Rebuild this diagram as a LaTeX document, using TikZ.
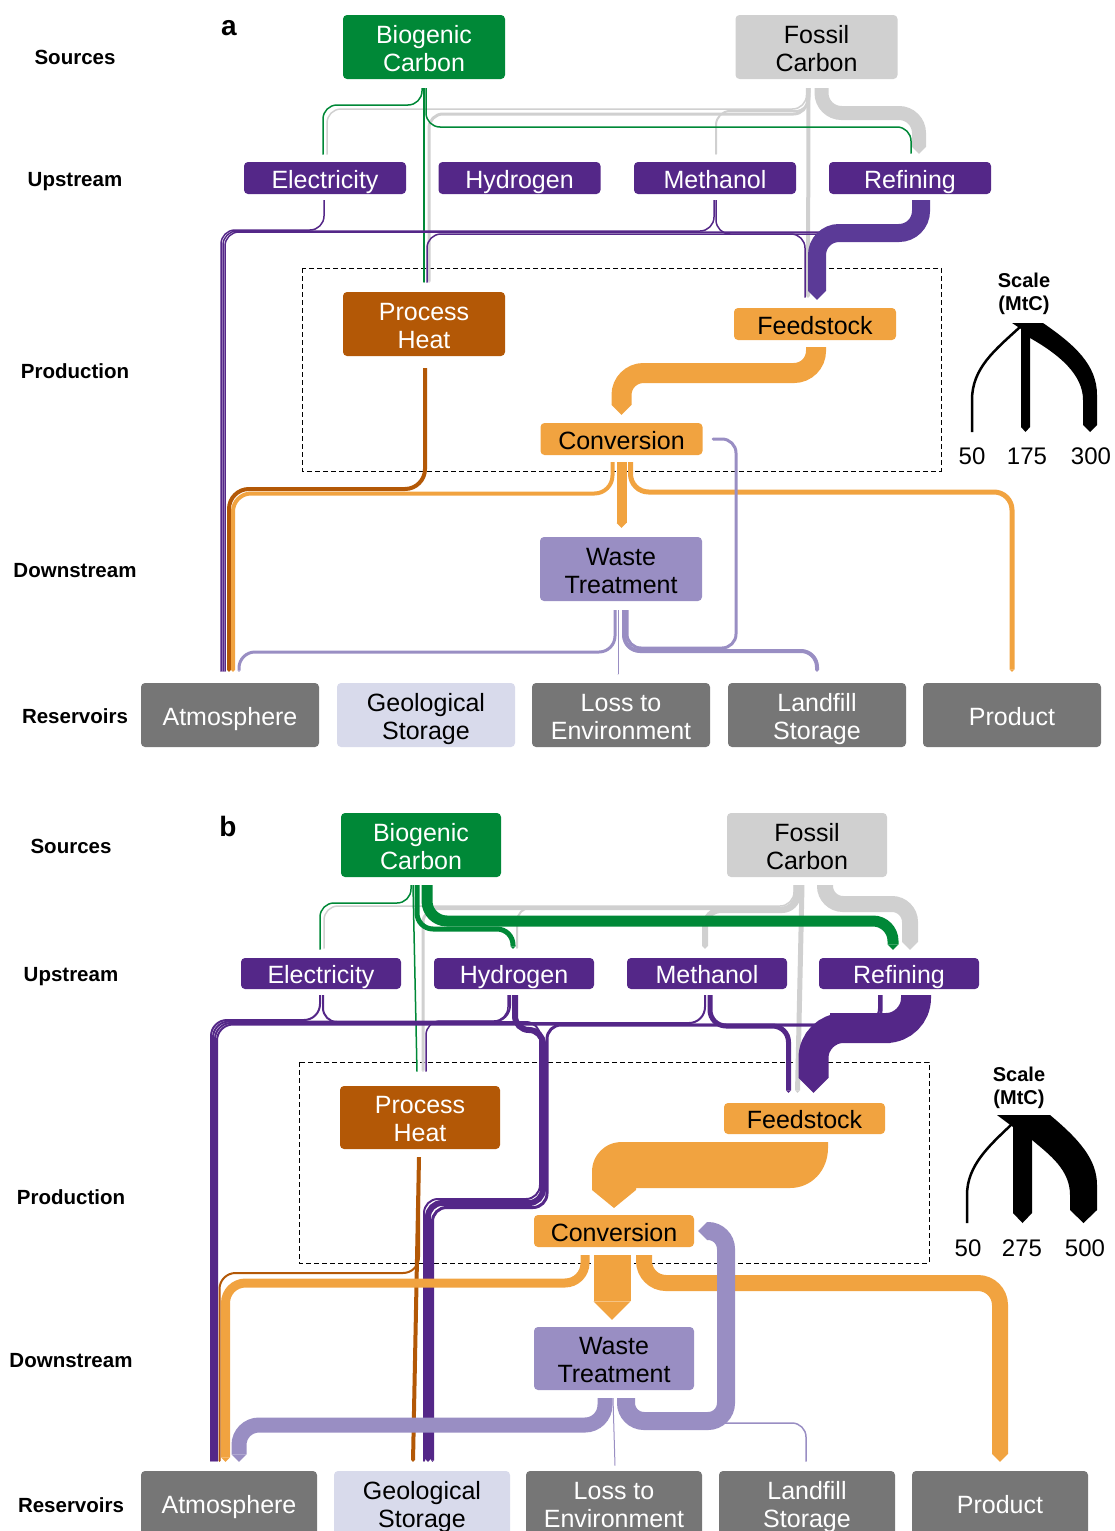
\documentclass[tikz,border=0pt]{standalone}
\usepackage{fontspec}
\setmainfont{Liberation Sans}
\usetikzlibrary{arrows.meta}
\definecolor{cgreen}{HTML}{008837}
\definecolor{cgray}{HTML}{D0D0D0}
\definecolor{cpurple}{HTML}{542788}
\definecolor{cpurpleA}{HTML}{5B3A97}
\definecolor{cbrown}{HTML}{B35806}
\definecolor{corange}{HTML}{F1A340}
\definecolor{clpurple}{HTML}{998EC3}
\definecolor{cres}{HTML}{767676}
\definecolor{cgeo}{HTML}{D8DAEB}
\newcommand\nodefont{\fontsize{25}{28}\selectfont}
\newcommand\rowfont{\fontsize{20.5}{24}\selectfont\bfseries}
\newcommand\numfont{\fontsize{24}{28}\selectfont}
\newcommand\ta{\rule{0pt}{26pt}}
\newcommand\tb{\rule[-6pt]{0pt}{6pt}}
\tikzset{
  nd/.style={rounded corners=4pt, inner sep=0pt, align=center, font=\nodefont, minimum width=162pt},
  oneline/.style={text height=22pt, text depth=2pt},
  ndone/.style={nd, oneline, minimum height=32pt},
  ndtwo/.style={nd, minimum height=64pt},
  res/.style={nd, minimum height=64pt, minimum width=178pt, fill=cres, text=white},
  fl/.style={line width=#1pt, rounded corners=14pt, -{Triangle[width=0pt 1, length=0pt 0.5, line width=0pt]}},
  row/.style={font=\rowfont, text height=16.6pt, text depth=2pt, inner sep=0pt},
  numlab/.style={font=\numfont, text height=19.2pt, text depth=2pt, inner sep=0pt},
  sclab/.style={align=center, font=\fontsize{20}{23}\selectfont\bfseries, inner sep=0pt},
  box/.style={line width=1pt, dash pattern=on 5pt off 3pt},
}
\begin{document}
\begin{tikzpicture}[x=1pt, y=-1pt]
\useasboundingbox (0,0) rectangle (1114,1531);

%================ PANEL A =================
\node[font=\fontsize{28}{30}\selectfont\bfseries] (la) at (229,28) {a};
\node[row] (rA1) at (75,57) {Sources};
\node[row] (rA2) at (75,179) {Upstream};
\node[row] (rA3) at (75,371) {Production};
\node[row] (rA4) at (75,570) {Downstream};
\node[row] (rA5) at (75,716) {Reservoirs};

\draw[box] (302,268) rectangle (941,471);

\node[ndtwo, fill=cgreen, text=white] (bioA) at (424,47) {\ta Biogenic\\Carbon\tb};
\node[ndtwo, fill=cgray] (fosA) at (816.5,47) {\ta Fossil\\Carbon\tb};
\node[ndone, fill=cpurple, text=white] (elecA) at (325,178) {Electricity};
\node[ndone, fill=cpurple, text=white] (hydA) at (519.5,178) {Hydrogen};
\node[ndone, fill=cpurple, text=white] (methA) at (715,178) {Methanol};
\node[ndone, fill=cpurple, text=white] (refA) at (910,178) {Refining};
\node[ndtwo, fill=cbrown, text=white] (heatA) at (424,324) {\ta Process\\Heat\tb};
\node[ndone, fill=corange] (feedA) at (815,324) {Feedstock};
\node[ndone, fill=corange] (convA) at (621.5,439) {Conversion};
\node[ndtwo, fill=clpurple] (wasteA) at (621,569) {\ta Waste\\Treatment\tb};
\node[res, oneline] (atmA) at (230,715) {Atmosphere};
\node[res, fill=cgeo, text=black] (geoA) at (426,715) {\ta Geological\\Storage\tb};
\node[res] (lossA) at (621,715) {\ta Loss to\\Environment\tb};
\node[res] (landA) at (817,715) {\ta Landfill\\Storage\tb};
\node[res, oneline] (prodA) at (1012,715) {Product};

% gray flows A
\draw[fl=14, cgray, rounded corners=20pt] ([shift={(5,9)}]fosA.south) |- (880,113) -| ([shift={(9,-8)}]refA.north);
\draw[fl=2, cgray] ([shift={(-7,9)}]fosA.south) |- (760,111) -| ([shift={(1,-7)}]methA.north);
\draw[fl=3, cgray] ([shift={(-9,9)}]fosA.south) |- (600,114) -| ([shift={(5,-9)}]heatA.north);
\draw[fl=1.5, cgray] ([shift={(-10,9)}]fosA.south) |- (600,109) -| ([shift={(2,-7)}]elecA.north);
\draw[fl=4, cgray] ([shift={(-8,9)}]fosA.south) -- ([shift={(-7,-10)}]feedA.north);
% green flows A
\draw[fl=1.5, cgreen] ([shift={(-2,9)}]bioA.south) |- (370,105) -| ([shift={(-2,-7)}]elecA.north);
\draw[fl=1.5, cgreen] ([shift={(0,9)}]bioA.south) -- ([shift={(0,-9)}]heatA.north);
\draw[fl=1.5, cgreen] ([shift={(2,9)}]bioA.south) |- (700,127) -| ([shift={(1,-8)}]refA.north);
% purple flows A
\draw[fl=1.5, cpurple] ([shift={(-1,6)}]elecA.south) |- (280,230) -| ([shift={(-9,-11)}]atmA.north);
\draw[fl=1.5, cpurple] ([shift={(-1,6)}]methA.south) |- (500,231) -| ([shift={(-7,-11)}]atmA.north);
\draw[fl=1.5, cpurple] ([shift={(17,6)}]refA.south) |- (600,232) -| ([shift={(-5,-11)}]atmA.north);
\draw[fl=1.5, cpurple] ([shift={(15,6)}]refA.south) |- (600,234) -| ([shift={(3,-9)}]heatA.north);
\draw[fl=1.5, cpurple] ([shift={(1,6)}]methA.south) |- (760,234) -| ([shift={(-10,-10)}]feedA.north);
\draw[fl=18, cpurpleA, rounded corners=22pt] ([shift={(11,6)}]refA.south) |- (870,233) -| ([shift={(2,-8)}]feedA.north);
% brown A
\draw[fl=4, cbrown, rounded corners=20pt] ([shift={(1,12)}]heatA.south) |- (330,489) -| ([shift={(-1,-11)}]atmA.north);
% orange A
\draw[fl=20, corange, rounded corners=22pt] ([shift={(1,7)}]feedA.south) |- (700,373) -| ([shift={(0,-8)}]convA.north);
\draw[fl=4, corange, rounded corners=18pt] ([shift={(-9,7)}]convA.south) |- (420,493.5) -| ([shift={(3,-11)}]atmA.north);
\draw[fl=10, corange] ([shift={(0,7)}]convA.south) -- ([shift={(0.5,-9)}]wasteA.north);
\draw[fl=5, corange, rounded corners=18pt] ([shift={(9,7)}]convA.south) |- (800,492) -| ([shift={(0,-11)}]prodA.north);
% light purple A
\draw[fl=3, clpurple, rounded corners=16pt] ([shift={(-6,9)}]wasteA.south) |- (400,652) -| ([shift={(9,-11)}]atmA.north);
\draw[fl=1, clpurple] ([shift={(-3,9)}]wasteA.south) -- ([shift={(-3,-8)}]lossA.north);
\draw[fl=4, clpurple, rounded corners=16pt] ([shift={(3,9)}]wasteA.south) |- (700,651) -| ([shift={(0,-11)}]landA.north);
\draw[fl=3, clpurple, rounded corners=14pt] ([shift={(6,9)}]wasteA.south) |- (736,648) |- ([shift={(9,0)}]convA.east);

% scale A
\node[sclab] (scA) at (1024,294) {Scale\\(MtC)};
\fill (1012,323) -- (1021,323) -- (1021,329) -- cycle;
\draw[line width=2.5pt] (1020,327) .. controls (995,350) and (972,368) .. (972,400) -- (972,432);
\fill (1021,323) -- (1030,323) -- (1030,427) -- (1025.5,432) -- (1021,427) -- cycle;
\fill (1030,323) -- (1043,323) .. controls (1075,345) and (1097,365) .. (1097,395) -- (1097,425) -- (1090,432) -- (1083,425) -- (1083,400) .. controls (1083,375) and (1060,355) .. (1030,338) -- cycle;
\node[numlab] (nA1) at (972,456) {50};
\node[numlab] (nA2) at (1027,456) {175};
\node[numlab] (nA3) at (1091,456) {300};

%================ PANEL B =================
\node[font=\fontsize{28}{30}\selectfont\bfseries] (lb) at (228,826) {b};
\node[row] (rB1) at (71,846) {Sources};
\node[row] (rB2) at (71,974) {Upstream};
\node[row] (rB3) at (71,1197) {Production};
\node[row] (rB4) at (71,1360) {Downstream};
\node[row] (rB5) at (71,1505) {Reservoirs};

\draw[box] (299,1062) rectangle (929,1263);

\node[ndtwo, minimum width=160pt, fill=cgreen, text=white] (bioB) at (421,845) {\ta Biogenic\\Carbon\tb};
\node[ndtwo, minimum width=160pt, fill=cgray] (fosB) at (807,845) {\ta Fossil\\Carbon\tb};
\node[ndone, minimum width=160pt, minimum height=31pt, fill=cpurple, text=white] (elecB) at (321,973.5) {Electricity};
\node[ndone, minimum width=160pt, minimum height=31pt, fill=cpurple, text=white] (hydB) at (514,973.5) {Hydrogen};
\node[ndone, minimum width=160pt, minimum height=31pt, fill=cpurple, text=white] (methB) at (707,973.5) {Methanol};
\node[ndone, minimum width=160pt, minimum height=31pt, fill=cpurple, text=white] (refB) at (899,973.5) {Refining};
\node[ndtwo, minimum width=160pt, minimum height=63pt, fill=cbrown, text=white] (heatB) at (420,1117.5) {\ta Process\\Heat\tb};
\node[ndone, minimum width=161pt, minimum height=31pt, fill=corange] (feedB) at (804.5,1118.5) {Feedstock};
\node[ndone, minimum width=160pt, fill=corange] (convB) at (614,1231) {Conversion};
\node[ndtwo, minimum width=160pt, minimum height=63pt, fill=clpurple] (wasteB) at (614,1358.5) {\ta Waste\\Treatment\tb};
\node[res, oneline, minimum width=176pt] (atmB) at (229,1503) {Atmosphere};
\node[res, minimum width=176pt, fill=cgeo, text=black] (geoB) at (422,1503) {\ta Geological\\Storage\tb};
\node[res, minimum width=176pt] (lossB) at (614,1503) {\ta Loss to\\Environment\tb};
\node[res, minimum width=176pt] (landB) at (807,1503) {\ta Landfill\\Storage\tb};
\node[res, oneline, minimum width=176pt] (prodB) at (1000,1503) {Product};

% gray B
\draw[fl=16, cgray, rounded corners=18pt] ([shift={(18,8)}]fosB.south) |- (870,904) -| ([shift={(11,-8)}]refB.north);
\draw[fl=6, cgray, rounded corners=16pt] ([shift={(-9,8)}]fosB.south) |- (760,910) -| ([shift={(-2,-9)}]methB.north);
\draw[fl=2, cgray] ([shift={(-11,8)}]fosB.south) |- (650,907.5) -| ([shift={(3,-9)}]hydB.north);
\draw[fl=3, cgray] ([shift={(-12,8)}]fosB.south) |- (600,908.5) -| ([shift={(3,-14)}]heatB.north);
\draw[fl=1.5, cgray] ([shift={(-13,8)}]fosB.south) |- (600,906) -| ([shift={(3,-9)}]elecB.north);
\draw[fl=5, cgray] ([shift={(-5,8)}]fosB.south) -- ([shift={(-7,-10)}]feedB.north);
% green B
\draw[fl=1.5, cgreen] ([shift={(-10,8)}]bioB.south) |- (370,903) -| ([shift={(-1,-8)}]elecB.north);
\draw[fl=1.5, cgreen] ([shift={(-8,8)}]bioB.south) -- ([shift={(-3,-14)}]heatB.north);
\draw[fl=5, cgreen, rounded corners=16pt] ([shift={(-4,8)}]bioB.south) |- (460,929) -| ([shift={(-1,-9)}]hydB.north);
\draw[fl=11, cgreen, rounded corners=20pt] ([shift={(6,8)}]bioB.south) |- (700,921) -| ([shift={(-6,-8)}]refB.north);
% purple B
\draw[fl=2, cpurple, rounded corners=16pt] ([shift={(-1,6)}]elecB.south) |- (260,1020) -| ([shift={(-18,-9)}]atmB.north);
\draw[fl=2, cpurple, rounded corners=16pt] ([shift={(-4,6)}]hydB.south) |- (400,1021.5) -| ([shift={(-16,-9)}]atmB.north);
\draw[fl=2, cpurple, rounded corners=16pt] ([shift={(-2,6)}]methB.south) |- (500,1023) -| ([shift={(-14,-9)}]atmB.north);
\draw[fl=2, cpurple, rounded corners=16pt] ([shift={(-20,6)}]refB.south) |- (600,1024.5) -| ([shift={(-12,-9)}]atmB.north);
\draw[fl=1.5, cpurple] ([shift={(-6,6)}]hydB.south) |- (470,1021) -| ([shift={(6,-14)}]heatB.north);
\draw[fl=2, cpurple, rounded corners=14pt] ([shift={(2,6)}]elecB.south) |- (540,1022) |- (480,1199) -| ([shift={(2,-9)}]geoB.north);
\draw[fl=6, cpurple, rounded corners=14pt] ([shift={(1,6)}]hydB.south) |- (543,1030) |- (480,1203) -| ([shift={(6,-9)}]geoB.north);
\draw[fl=3, cpurple, rounded corners=14pt] ([shift={(-18,6)}]refB.south) |- (547,1025) |- (480,1207.5) -| ([shift={(10.5,-9)}]geoB.north);
\draw[fl=5, cpurple, rounded corners=16pt] ([shift={(3,6)}]methB.south) |- (750,1026) -| ([shift={(-16,-10)}]feedB.north);
\draw[fl=30, cpurple, rounded corners=30pt] ([shift={(17,6)}]refB.south) |- (860,1028) -| ([shift={(9,-10)}]feedB.north);
% brown B
\draw[fl=2, cbrown, rounded corners=16pt] ([shift={(-1,8)}]heatB.south) |- (300,1273) -| ([shift={(-9.5,-9)}]atmB.north);
\draw[fl=4, cbrown] ([shift={(-1,8)}]heatB.south) -- ([shift={(-9,-9)}]geoB.north);
% orange B
\fill[corange] (828,1142) -- (828,1148) .. controls (828,1170) and (812,1188) .. (790,1188) -- (636,1188) -- (636,1190) -- (614,1208) -- (592,1190) -- (592,1172) .. controls (592,1155) and (605,1142) .. (622,1142) -- cycle;
\draw[fl=9, corange, rounded corners=20pt] ([shift={(-29,8)}]convB.south) |- (400,1283) -| ([shift={(-3.5,-9)}]atmB.north);
\draw[fl=37, corange] ([shift={(-2,8)}]convB.south) -- ([shift={(-2,-7)}]wasteB.north);
\draw[fl=16, corange, rounded corners=22pt] ([shift={(30,8)}]convB.south) |- (800,1283) -| ([shift={(0,-9)}]prodB.north);
% light purple B
\draw[fl=15, clpurple, rounded corners=20pt] ([shift={(-9,8)}]wasteB.south) |- (400,1425) -| ([shift={(10,-9)}]atmB.north);
\draw[fl=1, clpurple] ([shift={(-1,8)}]wasteB.south) -- ([shift={(1,-5)}]lossB.north);
\draw[fl=1.5, clpurple] ([shift={(14,8)}]wasteB.south) |- (760,1423) -| ([shift={(-1,-9)}]landB.north);
\draw[fl=18, clpurple, rounded corners=18pt] ([shift={(12,8)}]wasteB.south) |- (726,1421) |- ([shift={(4,0)}]convB.east);

% scale B
\node[sclab] (scB) at (1019,1088) {Scale\\(MtC)};
\fill (997,1115) -- (1013,1115) -- (1013,1127) -- cycle;
\draw[line width=2.5pt] (1012,1124) .. controls (990,1145) and (967,1165) .. (967,1195) -- (967,1223);
\fill (1013,1115) -- (1032,1115) -- (1032,1213) -- (1022.5,1223) -- (1013,1213) -- cycle;
\fill (1032,1115) -- (1050,1115) .. controls (1080,1140) and (1097,1160) .. (1097,1185) -- (1097,1210) -- (1083.5,1223) -- (1070,1210) -- (1070,1195) .. controls (1070,1170) and (1050,1155) .. (1032,1140) -- cycle;
\node[numlab] (nB1) at (968,1248) {50};
\node[numlab] (nB2) at (1022,1248) {275};
\node[numlab] (nB3) at (1085,1248) {500};
\end{tikzpicture}
\end{document}
